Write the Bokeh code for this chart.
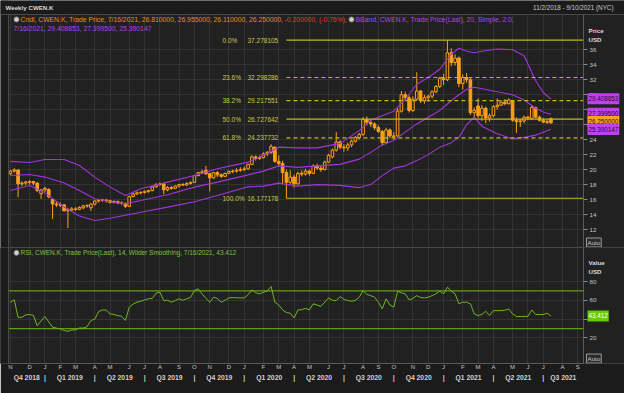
from bokeh.plotting import figure
from bokeh.models import (Range1d, FixedTicker, Label, BoxAnnotation, Span,
                          ColumnDataSource, LinearAxis, Grid)
from bokeh.layouts import column
from bokeh.embed import file_html
from bokeh.resources import INLINE
from bokeh.core.properties import value

# ---------------- data (weekly, week 0 = 11/2/2018) ----------------
open_ = [19.45, 19.8, 19.95, 18.1, 18.2, 18.3, 18.4, 18.2, 16.8, 17.3,
         17.35, 16.0, 15.4, 15.3, 15.3, 14.5, 14.6, 14.75, 14.7, 14.9,
         15.15, 14.9, 15.4, 15.8, 15.9, 15.95, 15.85, 15.6, 15.75, 15.55,
         15.5, 15.1, 16.4, 16.75, 16.9, 16.95, 17.1, 17.2, 17.7, 18.0,
         18.1, 17.3, 17.6, 17.5, 17.8, 18.0, 17.95, 18.15, 18.3, 19.2,
         19.6, 19.9, 19.45, 18.9, 19.6, 19.3, 19.1, 19.5, 19.75, 19.8,
         19.9, 20.0, 20.1, 20.7, 21.7, 21.5, 21.6, 22.1, 22.3, 23.0,
         21.1, 20.8, 19.6, 18.3, 19.0, 18.1, 19.5, 19.4, 19.8, 19.5,
         20.5, 20.2, 20.0, 21.0, 21.7, 22.6, 23.7, 23.0, 22.9, 23.3,
         23.8, 24.3, 24.7, 26.7, 26.3, 26.1, 25.6, 25.1, 23.6, 25.3,
         24.4, 24.5, 27.8, 30.0, 29.6, 27.9, 29.4, 30.5, 29.2, 29.6,
         29.8, 30.4, 31.1, 32.2, 32.0, 35.6, 34.3, 34.9, 31.5, 32.3,
         32.0, 27.6, 28.5, 27.2, 28.2, 26.9, 27.2, 28.4, 28.6, 29.0,
         28.8, 29.2, 26.6, 26.4, 26.5, 27.0, 26.8, 28.3, 27.0, 26.6,
         26.3, 26.81]
high = [19.95, 20.2, 20.0, 18.45, 18.5, 18.6, 18.5, 18.3, 17.4, 17.7,
        17.5, 16.2, 15.8, 15.6, 15.4, 14.9, 15.0, 15.0, 15.1, 15.3,
        15.35, 15.5, 15.9, 16.0, 16.1, 16.0, 15.95, 15.9, 15.85, 15.75,
        15.6, 16.5, 17.0, 17.1, 17.1, 17.2, 17.3, 17.8, 18.2, 18.3,
        18.2, 17.8, 17.8, 17.9, 18.1, 18.2, 18.3, 18.4, 19.3, 19.7,
        20.0, 20.5, 19.6, 19.7, 19.8, 19.5, 19.6, 19.9, 20.0, 20.2,
        20.3, 20.4, 20.8, 21.9, 21.9, 21.9, 22.3, 22.5, 23.4, 23.1,
        21.9, 21.2, 20.0, 19.9, 19.3, 19.7, 19.9, 20.1, 20.0, 20.7,
        20.8, 20.5, 21.2, 22.1, 22.8, 25.0, 23.9, 23.4, 23.6, 24.0,
        24.5, 24.9, 27.0, 27.1, 26.6, 26.3, 25.9, 25.3, 25.6, 25.5,
        25.0, 28.2, 30.5, 30.4, 29.9, 29.8, 33.0, 30.6, 30.0, 30.0,
        30.6, 31.3, 32.4, 32.8, 37.278105, 36.2, 35.4, 35.1, 32.7, 32.9,
        32.3, 28.3, 29.5, 28.6, 28.4, 27.5, 28.6, 29.5, 29.3, 29.4,
        29.5, 29.3, 27.0, 26.8, 27.2, 27.2, 28.5, 28.4, 27.2, 26.9,
        26.7, 26.955]
low = [19.3, 19.6, 16.3, 17.8, 17.9, 18.0, 17.9, 17.0, 16.1, 17.0,
       16.2, 13.4, 15.0, 15.0, 14.4, 12.2, 14.4, 14.5, 14.6, 14.7,
       14.9, 14.5, 15.2, 15.6, 15.7, 15.6, 15.5, 15.5, 15.4, 15.3,
       14.9, 15.0, 16.3, 16.6, 16.7, 16.8, 16.9, 17.1, 17.6, 17.8,
       16.7, 17.1, 17.3, 17.4, 17.6, 17.8, 17.8, 18.0, 18.2, 19.1,
       19.4, 19.3, 17.1, 18.8, 19.0, 18.9, 19.0, 19.4, 19.5, 19.6,
       19.7, 19.8, 20.0, 20.6, 21.2, 21.3, 21.5, 21.8, 22.1, 20.9,
       20.5, 18.2, 16.177178, 18.1, 17.6, 18.0, 19.1, 19.2, 19.2, 19.4,
       20.0, 19.7, 19.9, 20.9, 21.5, 22.4, 22.7, 22.4, 22.5, 23.0,
       23.6, 24.0, 24.5, 25.9, 25.7, 25.3, 24.9, 23.2, 23.4, 24.2,
       24.0, 24.4, 27.6, 29.2, 27.6, 27.7, 29.2, 28.9, 28.8, 29.1,
       29.5, 30.2, 30.9, 31.3, 31.8, 33.8, 33.9, 31.0, 30.7, 31.6,
       27.3, 27.0, 26.9, 26.5, 26.2, 26.4, 27.0, 28.0, 28.5, 28.6,
       28.7, 26.4, 24.9, 25.7, 26.2, 26.6, 26.6, 26.9, 26.4, 26.2,
       26.1, 26.11]
close = [19.8, 19.95, 18.1, 18.2, 18.35, 18.4, 18.2, 17.2, 17.3, 17.5,
         16.35, 15.4, 15.3, 15.25, 14.5, 14.65, 14.75, 14.7, 14.95, 15.15,
         15.2, 15.4, 15.8, 15.9, 15.95, 15.85, 15.6, 15.75, 15.55, 15.5,
         15.1, 16.4, 16.75, 16.9, 16.95, 17.1, 17.2, 17.7, 18.0, 18.1,
         17.3, 17.6, 17.5, 17.8, 18.0, 17.95, 18.15, 18.3, 19.2, 19.6,
         19.7, 19.45, 18.9, 19.6, 19.3, 19.1, 19.5, 19.75, 19.8, 19.9,
         20.0, 20.1, 20.7, 21.7, 21.5, 21.6, 22.1, 22.3, 23.1, 21.1,
         20.8, 19.6, 18.3, 19.0, 18.1, 19.5, 19.4, 19.8, 19.5, 20.5,
         20.2, 20.0, 21.0, 21.9, 22.6, 23.7, 23.0, 22.9, 23.3, 23.8,
         24.3, 24.7, 26.7, 26.3, 26.1, 25.6, 25.1, 23.6, 25.3, 24.5,
         24.5, 27.8, 30.0, 29.6, 27.9, 29.4, 30.5, 29.2, 29.6, 29.8,
         30.4, 31.1, 32.2, 32.0, 35.6, 34.3, 34.9, 31.5, 32.3, 32.0,
         27.6, 27.9, 27.2, 28.2, 26.9, 27.2, 28.4, 28.6, 29.0, 28.8,
         29.3, 26.6, 26.4, 26.5, 27.0, 26.9, 28.3, 27.0, 26.6, 26.35,
         26.45, 26.25]

bb_week = [0, 5, 9, 14, 18, 22, 26, 30, 34, 41, 48, 54, 62, 66, 70, 75, 80,
           86, 91, 94, 97, 100, 103, 106, 109, 112, 115, 117, 119, 121, 123,
           127, 131, 134, 137, 139, 141]
bb_upper = [21.1, 20.95, 21.35, 21.35, 20.55, 19.0, 17.66, 16.55, 17.44,
            18.33, 19.22, 20.11, 21.0, 21.9, 23.0, 22.9, 22.9, 23.5, 25.2,
            26.6, 27.2, 27.8, 29.4, 31.4, 32.3, 33.4, 35.4, 36.2, 35.8, 35.6,
            35.8, 36.1, 36.0, 35.2, 31.9, 30.3, 29.408853]
bb_mid = [19.22, 19.35, 19.0, 18.2, 17.2, 16.1, 15.7, 15.43, 15.88, 16.65,
          17.66, 18.33, 19.3, 19.8, 20.5, 20.3, 20.5, 20.7, 21.4, 22.3, 23.3,
          23.9, 25.0, 26.1, 27.0, 27.9, 29.2, 30.0, 30.7, 31.0, 30.8, 30.4,
          30.0, 29.3, 28.2, 27.7, 27.3995]
bb_lower = [17.22, 17.88, 16.9, 15.0, 13.8, 13.21, 13.5, 13.9, 14.3, 14.99,
            15.7, 16.55, 17.7, 17.8, 18.2, 17.8, 18.0, 17.9, 17.6, 18.0, 19.2,
            20.2, 20.5, 21.2, 22.0, 23.0, 23.6, 24.3, 26.0, 27.0, 25.8, 24.8,
            24.1, 24.3, 24.6, 25.0, 25.390147]

rsi = [58, 60.5, 42, 42, 44.5, 44.9, 44, 33, 38, 42.8, 37, 31.4, 30.5, 29.7,
       28, 27, 28.5, 28.5, 30.6, 30.5, 32.1, 38.5, 40, 48, 49.8, 49.5, 45.6,
       45, 43.8, 43, 38.5, 52.7, 56, 58, 59, 60.5, 61.6, 62, 67.6, 68.6, 59.8,
       60, 58, 59.8, 61.6, 60, 61.6, 63, 70.4, 72.2, 66.9, 62, 58, 63.3, 62,
       58, 60, 62.6, 63, 62.6, 62.6, 62.6, 66, 71.1, 68, 66.9, 68.6, 70, 74.7,
       58, 55, 49.8, 47, 46.3, 41.3, 49.8, 50, 51.5, 49.8, 56.3, 55, 53.5, 58,
       62.6, 60, 59.8, 64, 61, 59.8, 59, 60, 63.3, 70.4, 66.2, 65, 63.3, 58,
       51, 61.6, 55, 52.7, 69.7, 68, 66.9, 60.5, 62, 65, 63, 62.6, 63.3, 65,
       66.9, 69.7, 66.9, 74, 70, 66.9, 56.3, 58, 58, 56.3, 45.6, 43.8, 45,
       48.4, 43.8, 49.1, 49, 49.1, 49.5, 50.8, 45.6, 42.8, 42.8, 42.8, 43,
       49.8, 45, 44.9, 44.9, 46.3, 43.412]

fib_pct = ["0.0%", "23.6%", "38.2%", "50.0%", "61.8%", "100.0%"]
fib_val = [37.278105, 32.298286, 29.217551, 26.727642, 24.237732, 16.177178]
fib_val_txt = ["37.278105", "32.298286", "29.217551", "26.727642", "24.237732", "16.177178"]
fib_dashed = [False, True, True, False, True, False]
fib_start_week = 72

price_ticks = list(range(12, 37, 2))
rsi_ticks = [20, 40, 60, 80]
rsi_levels = [70, 30]

month_ticks = [0, 5, 9, 13, 17, 22, 26, 31, 35, 39, 44, 48, 52, 57, 61, 66, 70,
               74, 78, 83, 87, 92, 96, 100, 105, 109, 113, 118, 122, 126, 131,
               135, 139, 144, 148]
month_labels = ["N", "D", "J", "F", "M", "A", "M", "J", "J", "A", "S", "O",
                "N", "D", "J", "F", "M", "A", "M", "J", "J", "A", "S", "O",
                "N", "D", "J", "F", "M", "A", "M", "J", "J", "A", "S"]
quarter_bounds = [9, 22, 35, 48, 61, 74, 87, 100, 113, 126, 139]
quarter_labels = ["Q4 2018", "Q1 2019", "Q2 2019", "Q3 2019", "Q4 2019",
                  "Q1 2020", "Q2 2020", "Q3 2020", "Q4 2020", "Q1 2021",
                  "Q2 2021", "Q3 2021"]

last_values = ["29.408853", "27.399500", "26.250000", "25.390147"]
last_value_pos = [29.46, 27.54, 26.43, 25.36]

cndl_text = "Cndl, CWEN.K, Trade Price, 7/16/2021, 26.810000, 26.955000, 26.110000, 26.250000, "
chg_text = "-0.200000, (-0.76%),"
bb_text1 = "BBand, CWEN.K, Trade Price(Last),  20, Simple, 2.0,"
bb_text2 = "7/16/2021, 29.408853, 27.399500, 25.390147"
rsi_text = "RSI, CWEN.K, Trade Price(Last),  14, Wilder Smoothing, 7/16/2021, 43.412"

# ---------------- style ----------------
FONT = "Liberation Sans"
OUTER = "#1b1b1b"
PANEL = "#212121"
GRID = "#333333"
BORDER = "#4a4a4a"
AXTXT = "#c4c4c4"
ORANGE = "#ff9f1a"
PURPLE = "#a236d8"
FIB = "#bdbd1a"
FIBTXT = "#c9c94a"
GREEN = "#72b521"
GREEN2 = "#5f9f18"

X_LO, X_HI = -0.5, 149.5          # plotted weeks
PXW = 575 / 150.0                 # pixels per week
XR = Range1d(X_LO - 8 / PXW, X_HI + 41 / PXW)
weeks = list(range(len(close)))


def X(px):  # canvas pixel -> week coordinate (for text placement)
    return XR.start + px / PXW


def style_grids(p, xticks, yticks):
    for g in p.select(type=Grid):
        g.grid_line_color = GRID
        g.ticker = FixedTicker(ticks=xticks if g.dimension == 0 else yticks)


def style_yaxis(ax, ticks):
    ax.ticker = FixedTicker(ticks=ticks)
    ax.fixed_location = X_HI
    ax.major_tick_out = 4
    ax.major_tick_in = 0
    ax.minor_tick_line_color = None
    ax.major_label_standoff = 2
    ax.axis_line_color = "#5a5a5a"
    ax.major_tick_line_color = "#8a8a8a"
    ax.major_label_text_color = AXTXT
    ax.major_label_text_font = FONT
    ax.major_label_text_font_size = "6.2px"


def lab(p, x, y, t, color, size="6.5px", align="left", bold=False, **kw):
    p.add_layout(Label(x=x, y=y, text=t, text_color=color, text_font=FONT,
                       text_font_size=size, text_align=align,
                       text_baseline="middle",
                       text_font_style="bold" if bold else "normal", **kw))


def make_fig(height, yr, bottom):
    p = figure(width=624, height=height, x_range=XR, y_range=yr,
               output_backend="svg", toolbar_location=None,
               x_axis_location="below" if bottom else None,
               y_axis_location="right",
               min_border_left=0, min_border_right=0, min_border_top=0,
               min_border_bottom=bottom)
    p.background_fill_color = PANEL
    p.border_fill_color = OUTER
    return p


# ---------------- price panel ----------------
PY_LO, PY_HI, PY_TOP = 9.60, 42.58, 40.71
p1 = make_fig(247, Range1d(PY_LO, PY_HI), 0)
p1.outline_line_color = None
style_yaxis(p1.yaxis[0], price_ticks)
p1.yaxis.bounds = (PY_LO, PY_TOP)
style_grids(p1, month_ticks, price_ticks)
p1.add_layout(BoxAnnotation(left=X_HI, fill_color=PANEL, fill_alpha=1,
                            line_color=None, level="underlay"))
p1.add_layout(BoxAnnotation(right=X_LO, fill_color=OUTER, fill_alpha=1,
                            line_color=None, level="underlay"))

src = ColumnDataSource(dict(
    x=weeks, h=high, l=low,
    top=[max(a, b) for a, b in zip(open_, close)],
    bot=[min(a, b) for a, b in zip(open_, close)],
    fill=[PANEL if c >= o else ORANGE for o, c in zip(open_, close)]))
p1.segment(x0="x", y0="l", x1="x", y1="h", source=src, line_color=ORANGE, line_width=1)
p1.vbar(x="x", top="top", bottom="bot", width=0.68, source=src,
        fill_color="fill", line_color=ORANGE, line_width=1)

for y in (bb_upper, bb_mid, bb_lower):
    p1.line(bb_week, y, line_color=PURPLE, line_width=1.1)

for v, d in zip(fib_val, fib_dashed):
    p1.segment(x0=fib_start_week, y0=v, x1=X_HI, y1=v, line_color=FIB,
               line_width=1.2, line_dash="4 3" if d else "solid")
fsrc = ColumnDataSource(dict(p=fib_pct, v=fib_val, t=fib_val_txt,
                             xp=[X(222)] * 6, xv=[X(247)] * 6))
p1.text(x="xp", y="v", text="p", source=fsrc, text_color=FIBTXT,
        text_font=value(FONT), text_font_size="6.5px", text_baseline="middle")
p1.text(x="xv", y="v", text="t", source=fsrc, text_color=FIBTXT,
        text_font=value(FONT), text_font_size="6.5px", text_baseline="middle")

# header strip and panel border
p1.add_layout(BoxAnnotation(bottom=PY_TOP, fill_color=OUTER, fill_alpha=1,
                            line_color=None))
p1.add_layout(Span(location=PY_TOP, dimension="width", line_color=BORDER, line_width=1))
p1.segment(x0=[X_LO], y0=[PY_LO], x1=[X_LO], y1=[PY_TOP], line_color=BORDER, line_width=1)

lab(p1, X(5), 41.65, "Weekly CWEN.K", "#d8d8d8", size="6.2px", bold=True)
lab(p1, X(613), 41.65, "11/2/2018 - 9/10/2021 (NYC)", "#c8c8c8", size="6.3px", align="right")
p1.scatter([X(16), X(351)], [40.05, 40.05], size=5, fill_color="#d0d0d0",
           line_color="#888888")
lab(p1, X(20), 40.05, cndl_text, "#e8900c", size="6.8px")
lab(p1, X(284), 40.05, chg_text, "#e03a2a", size="6.8px")
lab(p1, X(355), 40.05, bb_text1, "#b444e8", size="6.8px")
lab(p1, X(13), 38.9, bb_text2, "#b444e8", size="6.8px")
lab(p1, X(588), 38.6, "Price", "#d8d8d8", size="6.2px", bold=True)
lab(p1, X(588), 37.4, "USD", "#d8d8d8", size="6.2px", bold=True)

for v, t, bg, fg in zip(last_value_pos, last_values,
                        ["#c040f0", "#c040f0", "#ff9f1a", "#c040f0"],
                        ["#2a0838", "#2a0838", "#1a1a1a", "#2a0838"]):
    lab(p1, X(587), v, t, fg, size="6.3px", background_fill_color=bg,
        background_fill_alpha=1, padding=(1, 3))
lab(p1, X(586), 10.27, "Auto", "#c8c8c8", size="6.2px", border_line_color="#9a9a9a",
    background_fill_color="#2a2a2a", padding=1)

# ---------------- RSI panel ----------------
p2 = make_fig(146, Range1d(-7.2, 116.2), 30)
p2.outline_line_color = BORDER
style_yaxis(p2.yaxis[0], rsi_ticks)
style_grids(p2, month_ticks, rsi_ticks)
p2.add_layout(BoxAnnotation(left=X_HI, fill_color=PANEL, fill_alpha=1,
                            line_color=None, level="underlay"))
p2.add_layout(BoxAnnotation(right=X_LO, fill_color=OUTER, fill_alpha=1,
                            line_color=None, level="underlay"))
p2.add_layout(Span(location=X_LO, dimension="height", line_color=BORDER, line_width=1))

xa = p2.xaxis[0]
xa.ticker = FixedTicker(ticks=month_ticks)
xa.bounds = (X_LO, X_HI)
xa.major_label_overrides = {t: l for t, l in zip(month_ticks, month_labels)}
xa.major_tick_out = 0
xa.major_tick_in = 0
xa.minor_tick_line_color = None
xa.major_label_standoff = 0
xa.axis_line_color = "#5a5a5a"
xa.major_label_text_color = AXTXT
xa.major_label_text_font = FONT
xa.major_label_text_font_size = "6px"

edges = [X_LO] + quarter_bounds + [X_HI]
q_centers = [(a + b) / 2 for a, b in zip(edges[:-1], edges[1:])]
q_over = {c: l for c, l in zip(q_centers, quarter_labels)}
q_over.update({b: "|" for b in quarter_bounds})
qa = LinearAxis(ticker=FixedTicker(ticks=sorted(q_centers + quarter_bounds)),
                major_label_overrides=q_over, major_tick_out=0, major_tick_in=0,
                minor_tick_line_color=None, axis_line_color=None,
                major_label_standoff=1, major_label_text_color="#d0d0d0",
                major_label_text_font=FONT, major_label_text_font_size="6.8px",
                major_label_text_font_style="bold")
p2.add_layout(qa, "below")

p2.segment(x0=[X_LO] * 2, y0=rsi_levels, x1=[X_HI] * 2, y1=rsi_levels,
           line_color=GREEN2, line_width=1.2)
p2.line(weeks, rsi, line_color=GREEN, line_width=1)

p2.scatter([X(16)], [110.5], size=5, fill_color="#d0d0d0", line_color="#888888")
lab(p2, X(20), 110.5, rsi_text, "#7cc43a")
lab(p2, X(588), 100.5, "Value", "#d8d8d8", size="6.2px", bold=True)
lab(p2, X(588), 91.0, "USD", "#d8d8d8", size="6.2px", bold=True)
lab(p2, X(587), rsi[-1], "43.412", "#ffffff", size="6.3px",
    background_fill_color="#66cc00", background_fill_alpha=1, padding=(1, 3))
lab(p2, X(586), -1.9, "Auto", "#c8c8c8", size="6.2px", border_line_color="#9a9a9a",
    background_fill_color="#2a2a2a", padding=1)

layout = column(p1, p2, spacing=0)
open("out.html", "w").write(file_html(layout, INLINE))
